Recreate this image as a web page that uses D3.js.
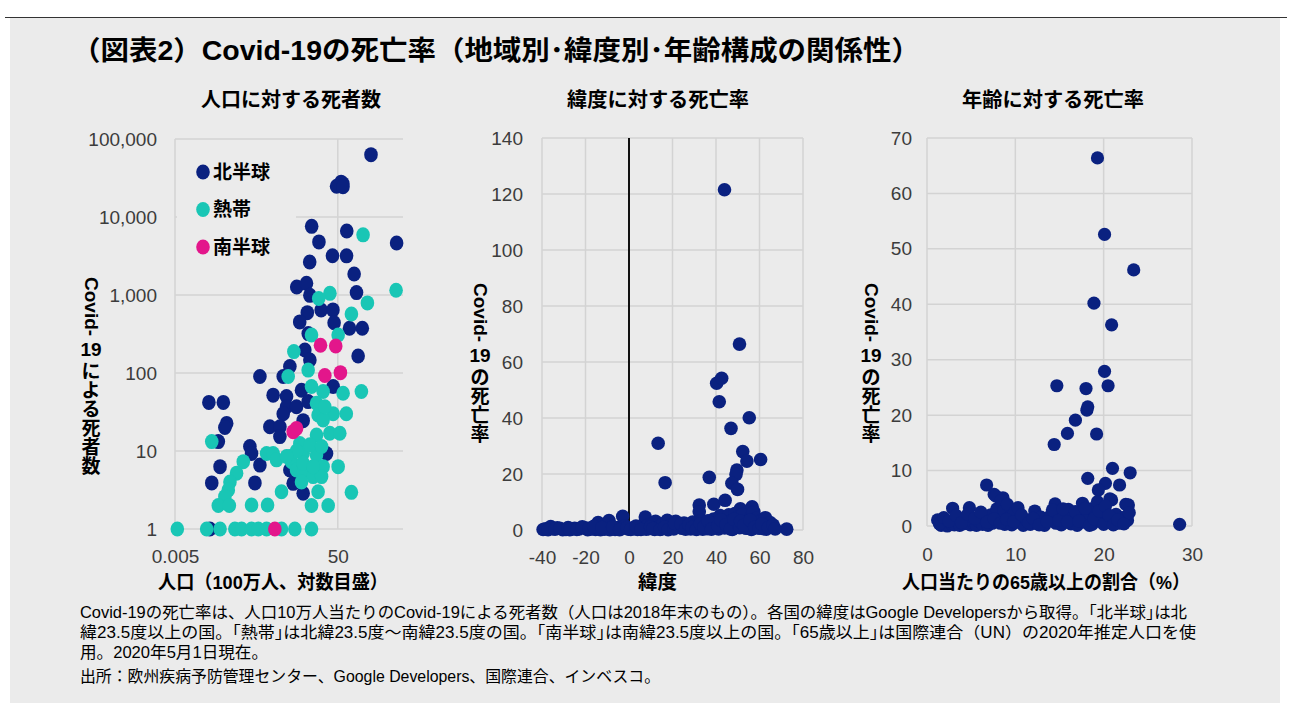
<!DOCTYPE html>
<html><head><meta charset="utf-8">
<script src="https://cdn.jsdelivr.net/npm/d3@7"></script>
<style>
body{margin:0;background:#fff}
text{font-family:"Liberation Sans","Noto Sans CJK JP",sans-serif}
</style>
</head><body>
<script>
// ---------- DATA ----------
// Panel 1: population (millions, log) vs Covid-19 deaths (log)
const northHemisphere = [[327,63000],[60.4,27967],[66.5,26771],[46.7,24824],[67,24376],[11.4,7594],[83,6623],[1393,4633],[17.2,4795],[37,3184],[82,3174],[10.2,2653],[126,1859],[4.9,1265],[8.5,1410],[8.9,594],[144,1073],[10.3,989],[19.5,641],[38,644],[5.8,452],[40.6,440],[97,375],[200,375],[9.4,320],[7.75,197],[10.3,147],[3.32,121],[2.28,90],[0.61,90],[158,165],[38.4,67],[6.41,60],[1.29,52],[2.75,50],[2.75,37],[4.84,37],[9.35,43],[2.28,30],[7.05,24.5],[0.034,42],[0.077,42],[0.093,22.6],[0.084,20],[1.07,20.5],[1.89,20.5],[1.89,15.3],[0.058,13.2],[0.346,11.4],[0.38,9.3],[26.4,9.3],[0.61,6.6],[0.064,6.3],[0.040,3.9],[0.46,3.9],[4.01,3.85],[7.05,2.87],[3.32,5.7],[0.036,1]];
const tropics = [[209,5901],[1353,1152],[32,1050],[17,900],[267,792],[108,570],[11.3,307],[51,307],[4.16,188],[3.02,90],[9.35,109],[11.3,67],[21.8,58],[67.5,55],[190,58],[15,41],[16.4,29],[38.4,30],[81,30],[0.040,13.2],[15,16],[31.8,16.9],[56,16.9],[5.84,12.5],[0.89,9.3],[1.29,9.3],[1.56,7.7],[3.32,8.5],[7.05,9.3],[15,8.9],[3.65,7.3],[4.84,5.7],[0.238,7.3],[0.163,5.2],[0.112,4.0],[0.102,3.16],[0.084,2.6],[7.05,5.2],[12.4,4.7],[21.8,6.3],[51,6.3],[6.41,4.0],[2.07,3.0],[16.4,3.0],[108,2.95],[0.058,2.0],[0.108,2.0],[0.38,2.03],[0.94,2.03],[11.3,2.0],[29,2.0],[10.3,12],[20,11.4],[7,7],[20,4.7],[12.4,6.3],[4.84,10],[2.75,8.5],[21.8,25],[24,37],[0.0057,1],[0.030,1],[0.064,1],[0.148,1],[0.216,1],[0.38,1],[0.555,1],[0.89,1],[2.07,1],[4.40,1],[11.3,1]];
const southHemisphere = [[18.8,227],[44.5,222],[24,93],[58,101],[4.01,17.7],[4.84,19.5],[1.42,1]];
const seriesNames = ["北半球","熱帯","南半球"];
const popTicks = [0.005, 50];
const deathTicks = [1,10,100,1000,10000,100000];

// Panel 2: latitude vs death rate (per 100k)
const latitudeRate = [[43.9,121.5],[50.8,66.4],[40.3,52.4],[42.6,54.2],[41.5,45.8],[55.3,40.1],[46.9,36.3],[13.4,31],[52.3,28],[54.2,24.6],[60.5,25.2],[49.6,21.4],[49.2,19.8],[47.3,16.7],[49.9,14.5],[16.6,16.9],[36.9,18.8],[32.3,8.9],[32.3,6.5],[39,9.2],[44.2,10.6],[51.2,7.6],[56.6,8.3],[57.4,6.5],
[-38.4,0.4],[-36,1.2],[-35,0.5],[-33,0.8],[-30.5,0.1],[-29,0.2],[-26.5,0.3],[-25,0.6],[-22.9,0.4],[-20.3,0.8],[-19,0.1],[-17.7,0.3],[-15.4,0.2],[-14.2,2.7],[-13.1,0.1],[-11.2,0.3],[-10,1.4],[-9.2,3.4],[-8.8,0.1],[-6.4,0.2],[-5.2,0.9],[-3.4,0.5],[-2.9,4.9],[-1.8,1.5],[-0.2,0.3],[1.4,0.6],[2.3,0.5],[3.9,0.2],[4.6,1.2],[6.4,0.8],[7.5,4.6],[7.9,0.3],[8.6,1.7],[9.1,0.5],[10.4,2.1],[11.8,0.2],[12.2,3.1],[12.9,0.6],[13.8,1.2],[15,0.4],[15.5,2.2],[17.6,3.5],[18.7,1.4],[19.8,0.9],[21.5,3.1],[22.3,1.6],[23.6,1.4],[24.4,0.6],[25.3,2.5],[26.8,1.1],[28.4,0.4],[29.3,2.8],[30.4,0.7],[31.8,1.3],[33.2,3.4],[33.9,0.3],[35.1,2.1],[35.9,0.5],[37.5,1.6],[38.9,3.9],[39.3,0.8],[40.1,2.5],[41.2,0.4],[41.9,5.2],[42.7,1.8],[43.9,3.1],[44,0.7],[45.1,2.9],[45.9,5.4],[46.1,1.1],[47.2,3.3],[47.5,0.2],[48.7,5.9],[48,1.6],[49.8,2.3],[50.5,4.8],[51.9,1.2],[52.2,5.5],[53.7,3.0],[53.9,0.6],[55.2,1.9],[56.9,6.1],[56.3,0.2],[58.6,4.2],[59.4,1.6],[60.5,3.2],[61.9,0.5],[62.7,4.4],[63.1,0.3],[64.9,2.7],[65.5,1.1],[72.5,0.3],
[-39.5,0.2],[-37.2,0.1],[-34,0.3],[-31.8,0.6],[-28,0.9],[-27.2,0.1],[-24,0.2],[-21.5,1.1],[-18.3,0.6],[-16.2,1.3],[-12.4,0.9],[-7.5,1.1],[-4.3,0.1],[-1,0.9],[0.8,0.2],[3.2,1.4],[5.5,0.2],[9.9,1.1],[11,0.5],[14.3,0.2],[16.4,1.0],[18,0.1],[20.6,0.4],[21,2.3],[24,2.1],[26,0.3],[27.5,1.8],[28.9,0.9],[31,0.2],[32.8,2.2],[34.5,1.1],[36.3,3.3],[37.9,0.3],[40.8,1.5],[42.2,3.6],[44.6,1.9],[46.7,0.4],[48.3,3.8],[50.9,0.8],[51.3,3.1],[52.8,1.7],[55.7,3.5],[57.8,1.0],[59.9,0.6],[61.1,2.1],[64.1,0.9],[66.3,1.8],[67.2,0.4]];
const latTicks = [-40,-20,0,20,40,60,80];
const latRateTicks = [0,20,40,60,80,100,120,140];

// Panel 3: share of population aged 65+ (%) vs death rate
const age65Rate = [[19.3,66.4],[20.1,52.6],[23.4,46.2],[18.9,40.2],[20.9,36.3],[20.1,27.9],[20.5,25.3],[14.7,25.3],[18.0,24.8],[18.1,20.9],[18.2,21.5],[16.8,19.1],[15.9,16.7],[19.2,16.6],[14.4,14.7],[21.0,10.4],[23.0,9.6],[18.2,8.6],[6.75,7.4],[7.6,5.7],[8.6,5.1],[20.2,7.7],[21.8,7.4],[19.4,6.5],[22.8,3.8],[20.9,4.7],[28.6,0.3],
[1.2,1.1],[1.6,0.1],[2.0,0.3],[2.3,0.0],[2.7,0.5],[2.9,3.2],[3.1,0.2],[3.4,0.8],[3.7,0.1],[4.1,0.4],[4.4,1.3],[4.8,3.3],[4.9,0.2],[5.2,0.6],[5.6,0.1],[5.9,0.9],[6.3,0.3],[6.6,1.7],[6.9,0.1],[7.2,2.0],[7.4,0.5],[7.8,5.4],[7.9,3.1],[8.1,1.0],[8.4,4.6],[8.7,2.8],[8.8,0.3],[9.1,3.9],[9.3,1.5],[9.6,0.2],[9.9,2.4],[10.3,3.3],[10.5,0.6],[10.9,0.1],[11.3,1.1],[11.7,0.3],[12.2,2.7],[12.5,0.4],[12.9,1.6],[13.3,0.1],[14.0,1.9],[14.5,4.0],[14.6,0.5],[15.0,2.6],[15.2,0.2],[15.6,1.3],[16.0,3.0],[16.3,0.4],[16.6,1.8],[17.0,0.1],[17.3,2.5],[17.6,4.1],[17.8,0.7],[18.2,1.4],[18.5,3.1],[18.7,0.3],[19.0,2.0],[19.3,4.4],[19.6,0.9],[19.9,2.9],[20.4,1.3],[20.7,4.9],[20.9,0.6],[21.4,2.1],[21.8,0.5],[22.1,1.5],[22.5,3.9],[22.7,1.0],
[1.4,0.4],[1.9,1.5],[2.5,0.9],[3.3,1.9],[3.9,0.6],[4.6,2.1],[5.4,1.4],[6.1,2.5],[6.8,0.7],[7.6,1.3],[8.3,0.5],[9.0,1.2],[9.8,0.8],[10.7,2.0],[11.5,0.6],[12.0,1.4],[12.7,0.2],[13.6,0.8],[14.2,2.9],[14.9,1.0],[15.4,3.1],[15.9,0.8],[16.8,2.6],[17.2,0.9],[17.9,3.2],[18.4,0.1],[18.9,1.3],[19.5,2.7],[20.0,0.3],[20.2,3.6],[20.6,1.9],[21.1,0.2],[21.6,1.1],[22.3,0.4],[22.9,2.4]];
const ageTicks = [0,10,20,30];
const ageRateTicks = [0,10,20,30,40,50,60,70];

// ---------- STYLE ----------
const NAVY="#0a2180", TEAL="#19c6b5", PINK="#e3168b", BG="#ebebeb", GRID="#d3d3d3", TICK="#3c3c3c";

const svg=d3.select("body").append("svg").attr("width",1295).attr("height",720);
svg.append("rect").attr("x",10).attr("y",18).attr("width",1270).attr("height",685).attr("fill",BG);
svg.append("line").attr("x1",5).attr("x2",1287).attr("y1",17.5).attr("y2",17.5).attr("stroke","#333").attr("stroke-width",1);

function txt(x,y,s,size,opt={}){
  const t=svg.append("text").attr("x",x).attr("y",y).attr("font-size",size).text(s)
    .attr("font-weight",opt.bold?"bold":"normal").attr("fill",opt.fill||"#000")
    .attr("text-anchor",opt.anchor||"start");
  if(opt.len){t.attr("textLength",opt.len).attr("lengthAdjust","spacingAndGlyphs");}
  return t;
}

// Title
txt(72,60,"（図表2）Covid-19の死亡率（地域別･緯度別･年齢構成の関係性）",27,{bold:true,len:848});
// Subtitles
txt(201,107,"人口に対する死者数",20,{bold:true,len:180});
txt(567,107,"緯度に対する死亡率",20,{bold:true,len:182});
txt(962,107,"年齢に対する死亡率",20,{bold:true,len:182});
// x labels
txt(158,589,"人口（100万人、対数目盛）",19,{bold:true,len:230});
txt(638,589,"緯度",19,{bold:true,len:39});
txt(902,589,"人口当たりの65歳以上の割合（%）",19,{bold:true,len:288});

// vertical y labels
function vLabel(cx,top,chars){
  svg.append("text").attr("transform",`translate(${cx},${top}) rotate(90)`)
    .attr("font-size",19).attr("font-weight","bold").attr("dominant-baseline","central").text("Covid-");
  const c19=top+72;
  svg.append("text").attr("x",cx).attr("y",c19).attr("font-size",19).attr("font-weight","bold")
    .attr("text-anchor","middle").attr("dominant-baseline","central").text("19");
  chars.split("").forEach((ch,i)=>{
    svg.append("text").attr("x",cx).attr("y",c19+22+i*19).attr("font-size",19).attr("font-weight","bold")
      .attr("text-anchor","middle").attr("dominant-baseline","central").text(ch);
  });
}
vLabel(91,277,"による死者数");
vLabel(480,283,"の死亡率");
vLabel(871,283,"の死亡率");

// ---------- PANELS ----------
function panel(x,y,xt,yt,fx,fy,padY,padX){
  const g=svg.append("g");
  const [x0,x1]=x.range(), [y0,y1]=y.range();
  g.selectAll(null).data(yt).join("line").attr("x1",x0).attr("x2",x1)
    .attr("y1",d=>y(d)).attr("y2",d=>y(d)).attr("stroke",GRID).attr("stroke-width",1.5);
  g.selectAll(null).data(xt).join("line").attr("y1",y0).attr("y2",y1)
    .attr("x1",d=>x(d)).attr("x2",d=>x(d)).attr("stroke",GRID).attr("stroke-width",1.5);
  const ay=svg.append("g").attr("transform",`translate(${x0},0)`)
    .call(d3.axisLeft(y).tickValues(yt).tickFormat(fy).tickSize(0).tickPadding(padY));
  ay.select(".domain").remove();
  const ax=svg.append("g").attr("transform",`translate(0,${y0})`)
    .call(d3.axisBottom(x).tickValues(xt).tickFormat(fx).tickSize(0).tickPadding(padX));
  ax.select(".domain").remove();
  [ax,ay].forEach(a=>a.selectAll("text").attr("font-size",19).attr("fill",TICK));
  return g;
}

// Panel 1
const x1=d3.scaleLog().domain([0.005,2000]).range([175,403]);
const y1=d3.scaleLog().domain([1,100000]).range([529,139]);
panel(x1,y1,popTicks,deathTicks,d=>String(d),d3.format(","),18,21);
// legend background covering gridlines
svg.append("rect").attr("x",177).attr("y",150).attr("width",119).attr("height",112).attr("fill",BG);
const g1=svg.append("g");
[[northHemisphere,NAVY],[tropics,TEAL],[southHemisphere,PINK]].forEach(([data,col])=>{
  g1.selectAll(null).data(data).join("ellipse")
    .attr("cx",d=>x1(d[0])).attr("cy",d=>y1(d[1])).attr("rx",6.8).attr("ry",7.5).attr("fill",col);
});
// legend
[NAVY,TEAL,PINK].forEach((c,i)=>{
  svg.append("ellipse").attr("cx",203).attr("cy",172+i*37.5).attr("rx",6.8).attr("ry",7.5).attr("fill",c);
  svg.append("text").attr("x",213).attr("y",172+i*37.5).attr("dominant-baseline","central")
    .attr("font-size",19).attr("font-weight","bold").text(seriesNames[i]);
});

// Panel 2
const x2=d3.scaleLinear().domain([-40,80]).range([542,803]);
const y2=d3.scaleLinear().domain([0,140]).range([530,138]);
panel(x2,y2,latTicks,latRateTicks,d=>String(d),d=>String(d),19,21);
svg.append("line").attr("x1",x2(0)).attr("x2",x2(0)).attr("y1",y2(0)).attr("y2",y2(140))
  .attr("stroke","#111").attr("stroke-width",2);
svg.append("g").selectAll("circle").data(latitudeRate).join("circle")
  .attr("cx",d=>x2(d[0])).attr("cy",d=>y2(d[1])).attr("r",6.8).attr("fill",NAVY);

// Panel 3
const x3=d3.scaleLinear().domain([0,30]).range([927,1192]);
const y3=d3.scaleLinear().domain([0,70]).range([526,138]);
panel(x3,y3,ageTicks,ageRateTicks,d=>String(d),d=>String(d),15,22);
svg.append("g").selectAll("circle").data(age65Rate).join("circle")
  .attr("cx",d=>x3(d[0])).attr("cy",d=>y3(d[1])).attr("r",6.6).attr("fill",NAVY);

// Footnotes
txt(80,618,"Covid-19の死亡率は、人口10万人当たりのCovid-19による死者数（人口は2018年末のもの）。各国の緯度はGoogle Developersから取得。｢北半球｣は北",16,{len:1107});
txt(80,638,"緯23.5度以上の国。｢熱帯｣は北緯23.5度～南緯23.5度の国。｢南半球｣は南緯23.5度以上の国。｢65歳以上｣は国際連合（UN）の2020年推定人口を使",16,{len:1116});
txt(80,658,"用。2020年5月1日現在。",16,{len:188});
txt(80,682,"出所：欧州疾病予防管理センター、Google Developers、国際連合、インベスコ。",16,{len:580});
</script>
</body></html>
